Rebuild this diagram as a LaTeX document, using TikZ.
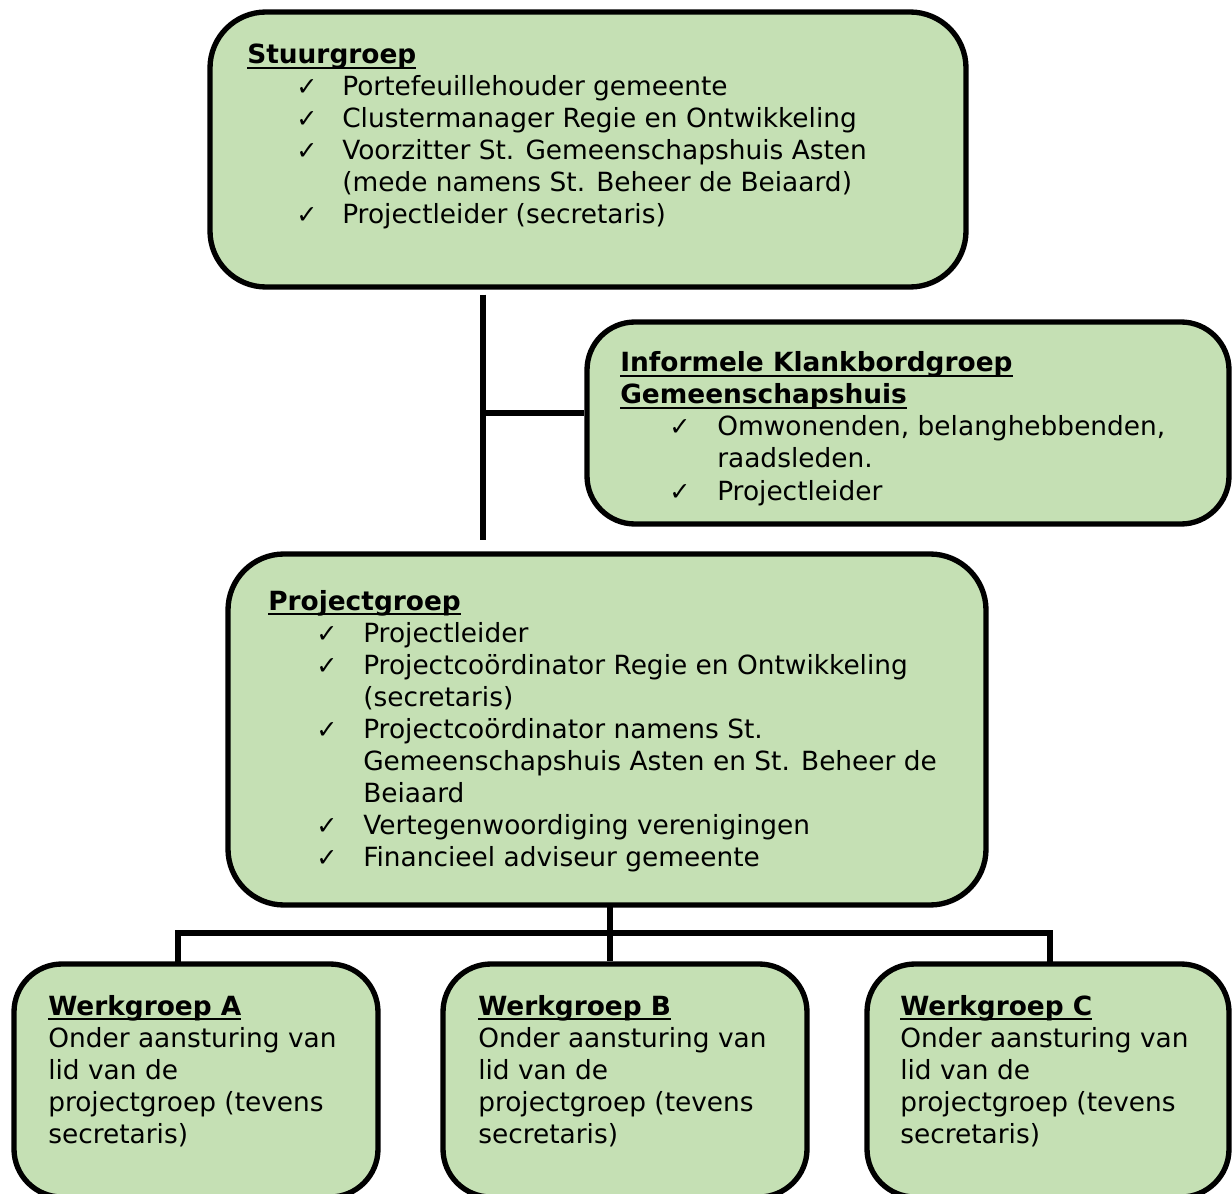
\documentclass[tikz,border=0pt]{standalone}
\usepackage{fontspec}
\setmainfont{DejaVu Sans}
\usetikzlibrary{fit,calc}
\definecolor{boxgreen}{RGB}{197,224,180}
\newcommand\mainsz{\fontsize{19.8pt}{24pt}\selectfont}
\newcommand\myul[1]{\setbox0\hbox{#1}\rlap{\rule[-0.2em]{\wd0}{0.08em}}\box0}
\newcommand\chk{{\fontsize{19pt}{24pt}\selectfont ✓}}
\begin{document}
\begin{tikzpicture}[x=0.75pt,y=-0.75pt,
  box/.style={draw=black, line width=4pt, fill=boxgreen, rounded corners=42pt, inner sep=0pt},
  sbox/.style={box, rounded corners=36pt},
  conn/.style={draw=black, line width=4.3pt, line cap=rect, line join=miter},
  txt/.style={anchor=base west, inner sep=0pt, font=\mainsz},
  ck/.style={anchor=base west, inner sep=0pt}]
\useasboundingbox (0,0) rectangle (1232,1194);
% boxes
\node[box, fit={(210,12) (966,287)}] (stuur) {};
\node[sbox, fit={(587,322) (1229,524)}] (klank) {};
\node[box, fit={(228,554) (986,905)}] (proj) {};
\node[sbox, fit={(14,964) (378,1197)}] (wgA) {};
\node[sbox, fit={(443,964) (807,1197)}] (wgB) {};
\node[sbox, fit={(867,964) (1229,1197)}] (wgC) {};
% junctions
\coordinate (jK) at (483,413);
\coordinate (jA) at (178,933);
\coordinate (jB) at (610,933);
\coordinate (jC) at (1050,933);
% connectors
\draw[conn, line cap=butt] ($(stuur.south -| jK)+(0,5)$) -- ($(proj.north -| jK)+(0,-11)$);
\draw[conn, line cap=butt] (jK) -- (jK -| klank.west);
\draw[conn, line cap=butt] ($(proj.south -| jB)+(0,-4)$) -- (jB |- wgB.north);
\draw[conn] (jA |- wgA.north) -- (jA) -- (jC) -- (jC |- wgC.north);
% Stuurgroep
\node[txt] (s0) at (247,64) {\myul{\textbf{Stuurgroep}}};
\node[ck] (sc1) at (296,96) {\chk};
\node[txt] (s1) at (342,96) {Portefeuillehouder gemeente};
\node[ck] (sc2) at (296,128) {\chk};
\node[txt] (s2) at (342,128) {Clustermanager Regie en Ontwikkeling};
\node[ck] (sc3) at (296,160) {\chk};
\node[txt] (s3) at (342,160) {Voorzitter St. Gemeenschapshuis Asten};
\node[txt] (s4) at (342,192) {(mede namens St. Beheer de Beiaard)};
\node[ck] (sc5) at (296,224) {\chk};
\node[txt] (s5) at (342,224) {Projectleider (secretaris)};
% Klankbordgroep
\node[txt] (k0) at (620,372) {\myul{\textbf{Informele Klankbordgroep}}};
\node[txt] (k1) at (620,404) {\myul{\textbf{Gemeenschapshuis}}};
\node[ck] (kc2) at (669,436) {\chk};
\node[txt] (k2) at (717,436) {Omwonenden, belanghebbenden,};
\node[txt] (k3) at (717,468) {raadsleden.};
\node[ck] (kc4) at (669,500) {\chk};
\node[txt] (k4) at (717,500) {Projectleider};
% Projectgroep
\node[txt] (p0) at (268,610) {\myul{\textbf{Projectgroep}}};
\node[ck] (pc1) at (316,642) {\chk};
\node[txt] (p1) at (363,642) {Projectleider};
\node[ck] (pc2) at (316,674) {\chk};
\node[txt] (p2) at (363,674) {Projectcoördinator Regie en Ontwikkeling};
\node[txt] (p3) at (363,706) {(secretaris)};
\node[ck] (pc4) at (316,738) {\chk};
\node[txt] (p4) at (363,738) {Projectcoördinator namens St.};
\node[txt] (p5) at (363,770) {Gemeenschapshuis Asten en St. Beheer de};
\node[txt] (p6) at (363,802) {Beiaard};
\node[ck] (pc7) at (316,834) {\chk};
\node[txt] (p7) at (363,834) {Vertegenwoordiging verenigingen};
\node[ck] (pc8) at (316,866) {\chk};
\node[txt] (p8) at (363,866) {Financieel adviseur gemeente};
% Werkgroepen
\node[txt] (a0) at (48,1015) {\myul{\textbf{Werkgroep A}}};
\node[txt] (a1) at (48,1047) {Onder aansturing van};
\node[txt] (a2) at (48,1079) {lid van de};
\node[txt] (a3) at (48,1111) {projectgroep (tevens};
\node[txt] (a4) at (48,1143) {secretaris)};
\node[txt] (b0) at (478,1015) {\myul{\textbf{Werkgroep B}}};
\node[txt] (b1) at (478,1047) {Onder aansturing van};
\node[txt] (b2) at (478,1079) {lid van de};
\node[txt] (b3) at (478,1111) {projectgroep (tevens};
\node[txt] (b4) at (478,1143) {secretaris)};
\node[txt] (c0) at (900,1015) {\myul{\textbf{Werkgroep C}}};
\node[txt] (c1) at (900,1047) {Onder aansturing van};
\node[txt] (c2) at (900,1079) {lid van de};
\node[txt] (c3) at (900,1111) {projectgroep (tevens};
\node[txt] (c4) at (900,1143) {secretaris)};
\end{tikzpicture}
\end{document}
